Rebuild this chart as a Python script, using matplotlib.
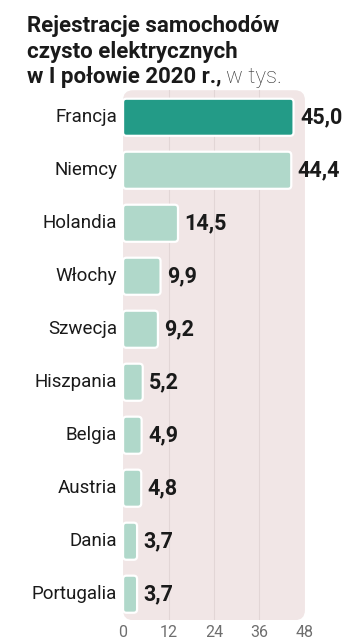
import matplotlib.pyplot as plt
from matplotlib.patches import FancyBboxPatch

countries = ['Francja', 'Niemcy', 'Holandia', 'Włochy', 'Szwecja',
             'Hiszpania', 'Belgia', 'Austria', 'Dania', 'Portugalia']
values = [45.0, 44.4, 14.5, 9.9, 9.2, 5.2, 4.9, 4.8, 3.7, 3.7]
xticks = [0, 12, 24, 36, 48]

dark = '#239b87'
light = '#b0d8ca'
bg = '#f1e6e6'

plt.rcParams['font.family'] = ['Roboto', 'DejaVu Sans']

fig = plt.figure(figsize=(3.63, 6.4), dpi=100)
ax = fig.add_axes([0.339, 0.031, 0.501, 0.828])
ax.set_xlim(0, 48)
ax.set_ylim(9.49, -0.51)
ax.axis('off')

# rounded background panel
ax.add_patch(FancyBboxPatch((0, 0), 1, 1, transform=ax.transAxes,
                            boxstyle='round,pad=0,rounding_size=0.055',
                            mutation_aspect=182 / 530, facecolor=bg,
                            edgecolor='none', zorder=0))
for t in xticks[1:-1]:
    ax.axvline(t, color='#e2d6d6', lw=0.8, zorder=1)

bars = ax.barh(range(len(values)), values, height=0.70)
for i, b in enumerate(bars):
    x, y, w, h = b.get_x(), b.get_y(), b.get_width(), b.get_height()
    b.set_visible(False)
    ax.add_patch(FancyBboxPatch((x, y), w, h,
                                boxstyle='round,pad=0,rounding_size=0.9',
                                mutation_aspect=0.071,
                                facecolor=dark if i == 0 else light,
                                edgecolor='white', lw=1.6, zorder=3))
    ax.text(w + 1.7, i, f'{values[i]:.1f}'.replace('.', ','),
            va='center', ha='left', fontsize=15.5, fontweight='bold',
            color='#1a1a1a', zorder=4)
    ax.text(-1.5, i, countries[i], va='center', ha='right', fontsize=13.5,
            color='#1a1a1a')

for t in xticks:
    ax.text(t, 9.72, str(t), va='center', ha='center', fontsize=11.5,
            color='#6e6e6e')

# title
fig.text(27 / 363, 1 - 26 / 640, 'Rejestracje samochodów', fontsize=16,
         fontweight='bold', va='center', ha='left', color='#1a1a1a')
fig.text(27 / 363, 1 - 52 / 640, 'czysto elektrycznych', fontsize=16,
         fontweight='bold', va='center', ha='left', color='#1a1a1a')
t3 = fig.text(27 / 363, 1 - 77 / 640, 'w I połowie 2020 r.,', fontsize=16,
              fontweight='bold', va='center', ha='left', color='#1a1a1a')
fig.canvas.draw()
bb = t3.get_window_extent()
fig.text(bb.x1 / fig.bbox.width + 4 / 363, 1 - 77 / 640, 'w tys.',
         fontsize=16, va='center', ha='left', color='#333333',
         fontweight='light')

fig.savefig('out.png', dpi=100)
